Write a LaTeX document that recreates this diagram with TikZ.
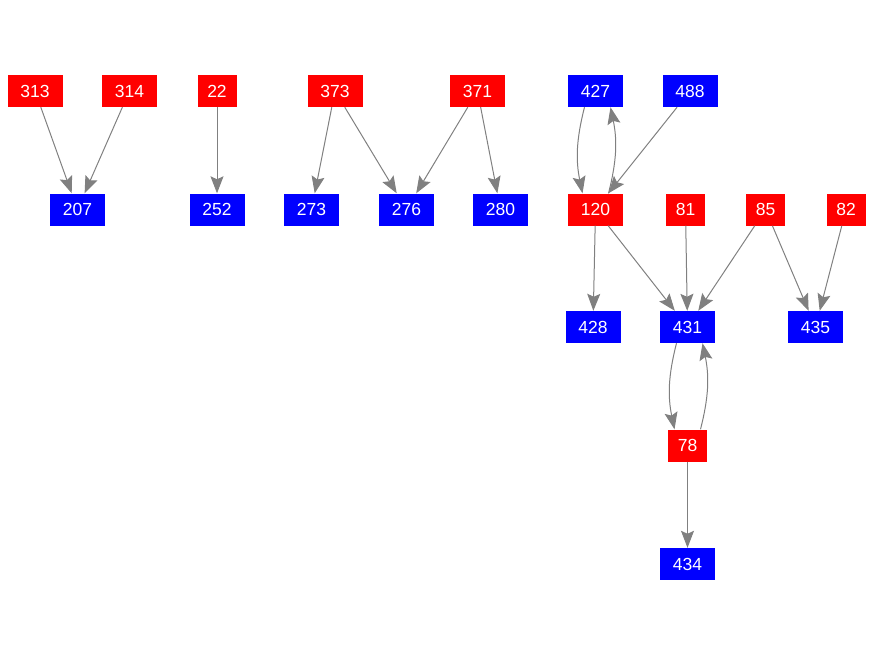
\documentclass[tikz,border=0pt]{standalone}
\usepackage{fontspec}
\setmainfont{Liberation Sans}
\usetikzlibrary{arrows.meta}
\definecolor{nred}{HTML}{FF0000}
\definecolor{nblue}{HTML}{0000FF}
\definecolor{egray}{HTML}{808080}
\begin{document}
\begin{tikzpicture}[x=1pt,y=-1pt,
  nbox/.style={inner sep=0pt, minimum height=32pt, text=white, font=\fontsize{17.5}{17.5}\selectfont},
  wide/.style={nbox, minimum width=55pt},
  narrow/.style={nbox, minimum width=39pt},
  rn/.style={fill=nred},
  bn/.style={fill=nblue},
  edge/.style={draw=egray, line width=1pt, -{Stealth[length=17pt,width=13pt,inset=3pt]}}]
\useasboundingbox (0,0) rectangle (876,656);
% row 1
\node[wide,rn] (n313) at (35,91) {313};
\node[wide,rn] (n314) at (129.5,91) {314};
\node[narrow,rn] (n22) at (217,91) {22};
\node[wide,rn] (n373) at (335,91) {373};
\node[wide,rn] (n371) at (477.5,91) {371};
\node[wide,bn] (n427) at (595.5,91) {427};
\node[wide,bn] (n488) at (690,91) {488};
% row 2
\node[wide,bn] (n207) at (77.5,209.5) {207};
\node[wide,bn] (n252) at (217,209.5) {252};
\node[wide,bn] (n273) at (311.5,209.5) {273};
\node[wide,bn] (n276) at (406.5,209.5) {276};
\node[wide,bn] (n280) at (500.5,209.5) {280};
\node[wide,rn] (n120) at (595.5,209.5) {120};
\node[narrow,rn] (n81) at (685.5,209.5) {81};
\node[narrow,rn] (n85) at (765.5,209.5) {85};
\node[narrow,rn] (n82) at (846,209.5) {82};
% row 3
\node[wide,bn] (n428) at (593,327) {428};
\node[wide,bn] (n431) at (687.5,327) {431};
\node[wide,bn] (n435) at (815.5,327) {435};
% row 4
\node[narrow,rn] (n78) at (687.5,445.5) {78};
% row 5
\node[wide,bn] (n434) at (687.5,564) {434};
% edges
\draw[edge] (n313) -- (n207);
\draw[edge] (n314) -- (n207);
\draw[edge] (n22) -- (n252);
\draw[edge] (n373) -- (n273);
\draw[edge] (n373) -- (n276);
\draw[edge] (n371) -- (n276);
\draw[edge] (n371) -- (n280);
\draw[edge] ([xshift=-11pt]n427.south) to[bend right=13] ([xshift=-13pt]n120.north);
\draw[edge] ([xshift=13pt]n120.north) to[bend right=13] ([xshift=15pt]n427.south);
\draw[edge] (n488) -- (n120);
\draw[edge] (n120) -- (n428);
\draw[edge] (n120) -- (n431);
\draw[edge] (n81) -- (n431);
\draw[edge] (n85) -- (n431);
\draw[edge] (n85) -- (n435);
\draw[edge] (n82) -- (n435);
\draw[edge] ([xshift=-11pt]n431.south) to[bend right=13] ([xshift=-13pt]n78.north);
\draw[edge] ([xshift=13pt]n78.north) to[bend right=13] ([xshift=15pt]n431.south);
\draw[edge] (n78) -- (n434);
\end{tikzpicture}
\end{document}
